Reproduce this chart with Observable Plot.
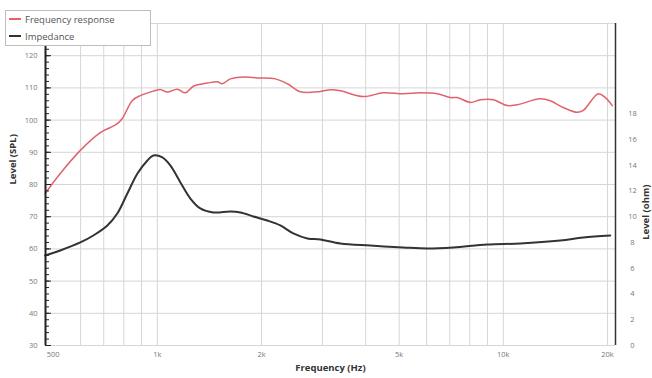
<!DOCTYPE html>
<html>
<head>
<meta charset="utf-8">
<script src="https://cdn.jsdelivr.net/npm/d3@7"></script>
<script src="https://cdn.jsdelivr.net/npm/@observablehq/plot@0.6"></script>
<style>
  html, body { margin: 0; padding: 0; background: #fff; }
  #wrap { position: relative; width: 652px; height: 378px; overflow: hidden; }
  #legend {
    position: absolute; left: 5px; top: 10px; width: 146px; height: 36px;
    border: 1px solid #bdbdbd; background: #fff; box-sizing: border-box;
    font-family: "Open Sans", sans-serif; font-size: 9.5px; color: #555;
  }
  #legend .row { position: absolute; left: 3px; height: 14px; line-height: 14px; white-space: nowrap; }
  #legend .sw { display: inline-block; width: 12px; height: 2px; vertical-align: middle; margin-right: 4px; position: relative; top: -1px; }
</style>
</head>
<body>
<div id="wrap">
  <div id="chart"></div>
  <div id="legend"></div>
</div>
<script>
// Frequency response (Hz, dB SPL)
const respFreq = [474,524,599,684,731,766,792,847,893,974,1020,1069,1142,1205,1271,1395,1491,1541,1626,1796,1945,2193,2376,2591,2959,3162,3380,3939,4499,5140,5756,6448,7027,7362,8029,8580,9357,10270,10980,12790,13670,14910,16360,17030,18820,19720,20650];
const respDb = [77.2,83.4,90.6,96.1,97.7,98.9,100.5,106.1,107.6,109.0,109.5,108.7,109.6,108.5,110.5,111.5,111.9,111.3,112.8,113.4,113.1,112.8,111.3,108.8,108.9,109.4,109.1,107.3,108.5,108.2,108.5,108.2,107.0,107.0,105.5,106.3,106.3,104.5,104.8,106.6,106.0,103.9,102.4,103.0,108.2,107.0,104.5];

// Impedance (Hz, ohm)
const impFreq = [474,524,599,653,717,766,819,876,936,974,1034,1090,1166,1246,1331,1451,1626,1738,1895,2079,2267,2472,2714,2959,3380,4126,5140,6030,7170,8990,11200,14610,17030,20380];
const impOhm = [6.99,7.38,8.0,8.54,9.32,10.25,11.8,13.35,14.36,14.75,14.6,13.98,12.66,11.41,10.64,10.33,10.4,10.33,10.02,9.7,9.32,8.7,8.31,8.23,7.92,7.76,7.61,7.53,7.61,7.84,7.92,8.15,8.39,8.54];

// Axes
const xTicks = [500, 1000, 2000, 5000, 10000, 20000];
const xTickLabels = ["500", "1k", "2k", "5k", "10k", "20k"];
const xGrid = [600,700,800,900,1000,2000,3000,4000,5000,6000,7000,8000,9000,10000,20000];
const yTicks = [30,40,50,60,70,80,90,100,110,120];
const yGrid = [30,40,50,60,70,80,90,100,110,120,130];
const yMinor = d3.range(30, 131, 2);
const ohmTicks = [0,2,4,6,8,10,12,14,16,18];
const xDomain = [475, 21100];
const yDomain = [30, 130];
// ohm axis maps onto SPL axis: SPL = 30 + 4 * ohm
const ohmToSpl = o => 30 + 4 * o;

const resp = respFreq.map((f, i) => ({f, v: respDb[i]}));
const imp = impFreq.map((f, i) => ({f, v: ohmToSpl(impOhm[i])}));
const xLabelData = xTicks.map((f, i) => ({f, label: xTickLabels[i]}));

const series = [
  {name: "Frequency response", color: "#e0636d"},
  {name: "Impedance", color: "#333333"}
];

const chart = Plot.plot({
  width: 652,
  height: 378,
  marginLeft: 45,
  marginRight: 37,
  marginTop: 23,
  marginBottom: 33,
  style: {fontFamily: "Open Sans, sans-serif", fontSize: "7.5px", color: "#777", background: "#fff"},
  x: {type: "log", domain: xDomain, axis: null},
  y: {domain: yDomain, axis: null},
  marks: [
    Plot.ruleY(yGrid, {stroke: "#d6d6d6", strokeWidth: 1}),
    Plot.ruleX(xGrid, {stroke: "#d6d6d6", strokeWidth: 1}),
    Plot.line(imp, {x: "f", y: "v", stroke: series[1].color, strokeWidth: 2, curve: "catmull-rom"}),
    Plot.line(resp, {x: "f", y: "v", stroke: series[0].color, strokeWidth: 1.5, curve: "catmull-rom"}),
    Plot.ruleX([xDomain[0]], {stroke: "#222", strokeWidth: 2}),
    Plot.ruleX([xDomain[1]], {stroke: "#333", strokeWidth: 1.5}),
    Plot.axisY(yMinor, {anchor: "left", tickSize: -4, tickFormat: () => "", stroke: "#222", label: null}),
    Plot.axisY(yTicks, {anchor: "left", tickSize: -6, tickFormat: () => "", stroke: "#222", label: null}),
    Plot.axisY(yTicks, {anchor: "left", tickSize: 0, tickPadding: 8, fill: "#777", label: null}),
    Plot.axisY(ohmTicks.map(ohmToSpl), {anchor: "right", tickSize: 0, tickPadding: 17, textAnchor: "middle", tickFormat: d => String((d - 30) / 4), fill: "#777", label: null}),
    Plot.text(xLabelData, {x: "f", text: "label", frameAnchor: "bottom", dy: 11, fill: "#777", fontSize: 7.5}),
    Plot.text(["Level (SPL)"], {frameAnchor: "left", dx: -33, rotate: -90, fontWeight: "bold", fontSize: 9.5, fill: "#333"}),
    Plot.text(["Level (ohm)"], {frameAnchor: "right", dx: 30, rotate: -90, fontWeight: "bold", fontSize: 9.5, fill: "#333"}),
    Plot.text(["Frequency (Hz)"], {frameAnchor: "bottom", dy: 25, fontWeight: "bold", fontSize: 9.5, fill: "#333"})
  ]
});
document.getElementById("chart").appendChild(chart);

const legend = document.getElementById("legend");
series.forEach((s, i) => {
  const row = document.createElement("div");
  row.className = "row";
  row.style.top = (i === 0 ? 2 : 19) + "px";
  const sw = document.createElement("span");
  sw.className = "sw";
  sw.style.background = s.color;
  row.appendChild(sw);
  row.appendChild(document.createTextNode(s.name));
  legend.appendChild(row);
});
</script>
</body>
</html>
